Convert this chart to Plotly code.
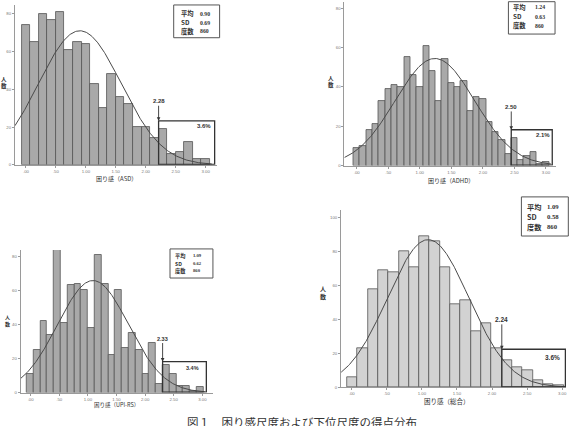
import numpy as np
import plotly.graph_objects as go

W, H = 578, 426

# ---------------- data ----------------
titles = ["困り感（ASD）", "困り感（ADHD）", "困り感（UPI-RS）", "困り感（総合）"]
means = [0.90, 1.24, 1.09, 1.09]
sds = [0.69, 0.63, 0.62, 0.58]
ns = [860, 860, 860, 860]
thresholds = [2.28, 2.50, 2.33, 2.24]
tail_pct = ["3.6%", "2.1%", "3.4%", "3.6%"]
bin_start = [-1 / 14, -0.05, -0.07, -0.066]
bin_width = [1 / 7, 0.1, 0.1188, 0.147]

counts_asd = [74, 65, 80, 77, 81, 61, 65, 64, 43, 30, 48, 36, 32, 20, 20, 14, 19, 6, 7, 12, 3, 3]
counts_adhd = [9, 10, 18, 21, 33, 39, 41, 40, 55, 46, 40, 61, 48, 33, 54, 42, 40, 43, 28, 35,
               34, 22, 17, 13, 6, 14, 3, 5, 7, 1, 2]
counts_upi = [11, 25, 42, 34, 84, 41, 63, 64, 60, 38, 81, 64, 22, 60, 26, 35, 25, 11, 29, 5,
              16, 11, 4, 4, 1, 3]
counts_total = [6, 23, 58, 69, 68, 80, 71, 89, 86, 71, 49, 51, 33, 38, 23, 16, 12, 10, 4, 2, 1]
all_counts = [counts_asd, counts_adhd, counts_upi, counts_total]

x_tickvals = [0, 0.5, 1.0, 1.5, 2.0, 2.5, 3.0]
x_ticktext = [".00", ".50", "1.00", "1.50", "2.00", "2.50", "3.00"]
y_tickvals = [[0, 20, 40, 60, 80], [0, 20, 40, 60, 80], [0, 20, 40, 60, 80], [0, 20, 40, 60, 80, 100]]
stat_labels = ["平均", "SD", "度数"]
caption = "図１　困り感尺度および下位尺度の得点分布"

# ---------------- layout (pixel geometry) ----------------
P = [
    dict(dx=(15, 217), dy=(5, 166), xr=(-0.183, 3.183), yr=(0, 84.7), fill="#a9a9a9",
         box_top=23.3, box_right=3.15, lab_y=33.7, pct=(2.98, 20.5), ylab=(4, 83), xt=(117, 180),
         sbox=(174, 220, 5, 38), srow=[14, 22.7, 31.7], scol=(180, 199), fs=5.5, sfs=6.3),
    dict(dx=(345, 557), dy=(2, 166.7), xr=(-0.195, 3.160), yr=(0, 83.2), fill="#a9a9a9",
         box_top=18.2, box_right=3.10, lab_y=29.8, pct=(2.95, 15.5), ylab=(332, 82), xt=(452, 182),
         sbox=(509.3, 556, 1.7, 34.3), srow=[7.5, 16.7, 25.7], scol=(513, 535), fs=5.5, sfs=6.3),
    dict(dx=(20.7, 213.3), dy=(251.7, 395.3), xr=(-0.174, 3.185), yr=(0, 83.7), fill="#a9a9a9",
         box_top=18.1, box_right=3.07, lab_y=31.7, pct=(2.82, 14.5), ylab=(7.5, 323), xt=(117, 407.5),
         sbox=(170.3, 213.3, 250.7, 280), srow=[257.6, 265.2, 272.8], scol=(174, 192.5), fs=5, sfs=5.2),
    dict(dx=(341.7, 567), dy=(211.7, 390), xr=(-0.151, 3.054), yr=(0, 104.3), fill="#d2d2d2",
         box_top=22.4, box_right=3.045, lab_y=40, pct=(2.86, 17.3), ylab=(324, 295), xt=(448, 404),
         sbox=(522.3, 569.3, 198.3, 237.7), srow=[208.3, 218.3, 228.3], scol=(527, 547), fs=6, sfs=7.2),
]

FONT = "Noto Sans CJK JP"
TXT = "#333333"
AX = "#9a9a9a"


def px(x):
    return x / W


def py(y):
    return 1 - y / H


fig = go.Figure()
shapes = []
annotations = []
layout_axes = {}

for i, (p, counts) in enumerate(zip(P, all_counts)):
    n = i + 1
    xa = "x" if n == 1 else f"x{n}"
    ya = "y" if n == 1 else f"y{n}"
    start, w = bin_start[i], bin_width[i]
    centers = [start + w * (k + 0.5) for k in range(len(counts))]
    fig.add_trace(go.Bar(
        x=centers, y=counts, width=w, xaxis=xa, yaxis=ya,
        marker=dict(color=p["fill"], line=dict(color="#555555", width=0.8)),
        showlegend=False, hoverinfo="x+y"))

    # fitted normal curve from the displayed statistics
    xs = np.linspace(p["xr"][0], start + w * len(counts) + 0.03, 300)
    ys = ns[i] * w / (sds[i] * np.sqrt(2 * np.pi)) * np.exp(-0.5 * ((xs - means[i]) / sds[i]) ** 2)
    fig.add_trace(go.Scatter(x=xs, y=ys, xaxis=xa, yaxis=ya, mode="lines",
                             line=dict(color="#4a4a4a", width=1), showlegend=False,
                             hoverinfo="skip"))

    xkey = "xaxis" if n == 1 else f"xaxis{n}"
    ykey = "yaxis" if n == 1 else f"yaxis{n}"
    layout_axes[xkey] = dict(
        domain=[px(p["dx"][0]), px(p["dx"][1])], range=list(p["xr"]), anchor=ya,
        showline=True, linecolor=AX, linewidth=1, showgrid=False, zeroline=False,
        tickvals=x_tickvals, ticktext=x_ticktext, ticks="outside", ticklen=2,
        tickcolor=AX, tickfont=dict(size=4.3, color="#777777", family="Liberation Sans"))
    layout_axes[ykey] = dict(
        domain=[py(p["dy"][1]), py(p["dy"][0])], range=list(p["yr"]), anchor=xa,
        showline=True, linecolor=AX, linewidth=1, showgrid=False, zeroline=False,
        tickvals=y_tickvals[i], ticks="outside", ticklen=2, tickcolor=AX,
        tickfont=dict(size=4.3, color="#777777", family="Liberation Sans"))

    # tail box
    k = int(np.floor((thresholds[i] - start) / w + 1e-9))
    left = start + k * w
    shapes.append(dict(type="rect", xref=xa, yref=ya, x0=left, x1=p["box_right"], y0=0.2,
                       y1=p["box_top"], line=dict(color="#333333", width=1.3)))
    annotations.append(dict(xref=xa, yref=ya, x=left, y=p["box_top"], axref=xa, ayref=ya,
                            ax=left, ay=p["lab_y"], text=f"<b>{thresholds[i]:.2f}</b>",
                            showarrow=True, arrowhead=2, arrowsize=0.8, arrowwidth=0.9,
                            arrowcolor="#333333", standoff=0,
                            font=dict(size=p["fs"] + 0.5, color=TXT, family="Liberation Sans")))
    annotations.append(dict(xref=xa, yref=ya, x=p["pct"][0], y=p["pct"][1], text=f"<b>{tail_pct[i]}</b>",
                            showarrow=False, xanchor="center", yanchor="middle",
                            font=dict(size=p["fs"] + 0.5, color=TXT, family="Liberation Sans")))

    # stats box
    sb = p["sbox"]
    shapes.append(dict(type="rect", xref="paper", yref="paper", x0=px(sb[0]), x1=px(sb[1]),
                       y0=py(sb[3]), y1=py(sb[2]), line=dict(color="#555555", width=1)))
    vals = [f"{means[i]:.2f}", f"{sds[i]:.2f}", f"{ns[i]}"]
    for r in range(3):
        annotations.append(dict(xref="paper", yref="paper", x=px(p["scol"][0]), y=py(p["srow"][r]),
                                xanchor="left", yanchor="middle", text=f"<b>{stat_labels[r]}</b>",
                                showarrow=False, borderpad=0,
                                font=dict(size=p["sfs"], color=TXT, family=FONT)))
        annotations.append(dict(xref="paper", yref="paper", x=px(p["scol"][1]), y=py(p["srow"][r]),
                                xanchor="left", yanchor="middle", text=f"<b>{vals[r]}</b>",
                                showarrow=False, borderpad=0,
                                font=dict(size=p["sfs"] - 0.5, color=TXT, family="Liberation Serif")))

    # axis titles
    annotations.append(dict(xref="paper", yref="paper", x=px(p["ylab"][0]), y=py(p["ylab"][1]),
                            xanchor="center", yanchor="middle",
                            text="<b>人<br>数</b>", showarrow=False,
                            font=dict(size=p["fs"], color=TXT, family=FONT)))
    annotations.append(dict(xref="paper", yref="paper", x=px(p["xt"][0]), y=py(p["xt"][1]),
                            xanchor="center", yanchor="middle",
                            text=titles[i], showarrow=False,
                            font=dict(size=p["fs"] + 0.5, color=TXT, family=FONT)))

annotations.append(dict(xref="paper", yref="paper", x=px(303), y=py(415), xanchor="center",
                        yanchor="top", text=caption, showarrow=False,
                        font=dict(size=11.5, color="#333333", family=FONT)))

fig.update_layout(width=W, height=H, margin=dict(l=0, r=0, t=0, b=0),
                  paper_bgcolor="white", plot_bgcolor="white", bargap=0,
                  shapes=shapes, annotations=annotations, **layout_axes)

fig.write_html("out.html")
